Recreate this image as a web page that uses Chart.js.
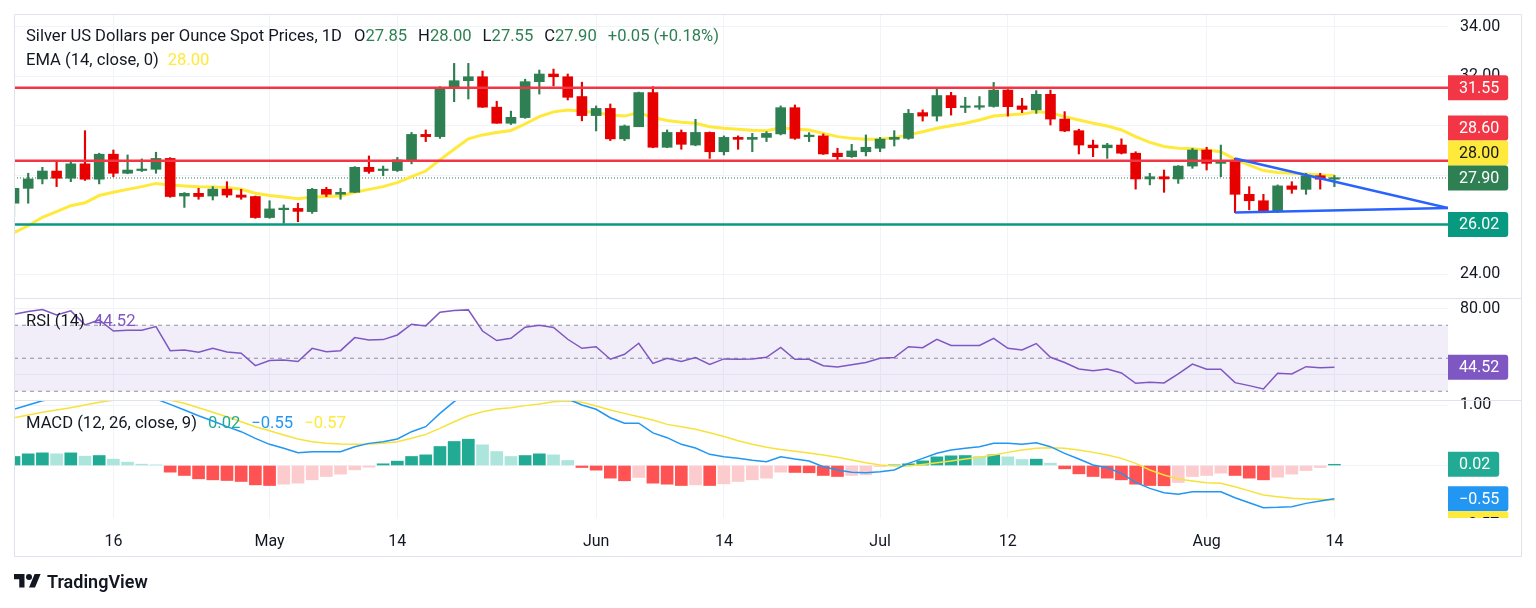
<!DOCTYPE html>
<html>
<head>
<meta charset="utf-8">
<script src="https://cdn.jsdelivr.net/npm/chart.js@4.4.1/dist/chart.umd.min.js"></script>
<style>
  html, body { margin: 0; padding: 0; background: #fff; }
  #wrap { position: relative; width: 1536px; height: 608px; }
  #logo { position: absolute; left: 14px; top: 571px; display: flex; align-items: center; gap: 6px;
          font: 600 18px Roboto, "Noto Sans", sans-serif; color: #131722; }
</style>
</head>
<body>
<div id="wrap">
  <canvas id="chart" width="1536" height="608"></canvas>
  <div id="logo">
    <svg width="27" height="21" viewBox="0 0 36 28"><path fill="#131722" d="M14 22H7V11H0V4h14v18zM28 22h-8l7.5-18h8L28 22z"/><circle fill="#131722" cx="20" cy="8" r="4"/></svg>
    <span>TradingView</span>
  </div>
</div>
<script>
const ctx = document.getElementById('chart');

// trading days shown on the time axis (last 8 are empty space to the right)
const dates = [
  '2024-04-05','2024-04-08','2024-04-09','2024-04-10','2024-04-11','2024-04-12','2024-04-15','2024-04-16','2024-04-17','2024-04-18',
  '2024-04-19','2024-04-22','2024-04-23','2024-04-24','2024-04-25','2024-04-26','2024-04-29','2024-04-30',
  '2024-05-01','2024-05-02','2024-05-03','2024-05-06','2024-05-07','2024-05-08','2024-05-09','2024-05-10','2024-05-13','2024-05-14',
  '2024-05-15','2024-05-16','2024-05-17','2024-05-20','2024-05-21','2024-05-22','2024-05-23','2024-05-24','2024-05-27','2024-05-28',
  '2024-05-29','2024-05-30','2024-05-31',
  '2024-06-03','2024-06-04','2024-06-05','2024-06-06','2024-06-07','2024-06-10','2024-06-11','2024-06-12','2024-06-13','2024-06-14',
  '2024-06-17','2024-06-18','2024-06-19','2024-06-20','2024-06-21','2024-06-24','2024-06-25','2024-06-26','2024-06-27','2024-06-28',
  '2024-07-01','2024-07-02','2024-07-03','2024-07-04','2024-07-05','2024-07-08','2024-07-09','2024-07-10','2024-07-11','2024-07-12',
  '2024-07-15','2024-07-16','2024-07-17','2024-07-18','2024-07-19','2024-07-22','2024-07-23','2024-07-24','2024-07-25','2024-07-26',
  '2024-07-29','2024-07-30','2024-07-31',
  '2024-08-01','2024-08-02','2024-08-05','2024-08-06','2024-08-07','2024-08-08','2024-08-09','2024-08-12','2024-08-13','2024-08-14',
  '2024-08-15','2024-08-16','2024-08-19','2024-08-20','2024-08-21','2024-08-22','2024-08-23','2024-08-26'
];
const xTickText = {
  '2024-04-16': '16', '2024-05-01': 'May', '2024-05-14': '14', '2024-06-03': 'Jun', '2024-06-14': '14',
  '2024-07-01': 'Jul', '2024-07-12': '12', '2024-08-01': 'Aug', '2024-08-14': '14'
};

const open = [
  26.88, 27.48, 27.86, 28.18, 27.89, 28.47, 27.85,
  28.86, 28.09, 28.20, 28.25, 28.69, 27.17, 27.28, 27.17, 27.45, 27.21,
  27.15, 26.30, 26.62, 26.67, 26.54, 27.44, 27.24, 27.32, 28.33, 28.20,
  28.20, 28.60, 29.66, 29.57, 31.53, 31.83, 31.99, 30.76, 30.11, 30.34,
  31.79, 32.10, 31.99, 31.19, 30.42, 30.71, 29.48, 29.97, 31.35, 29.14,
  29.74, 29.23, 29.74, 28.96, 29.54, 29.46, 29.54, 29.68, 30.74, 29.57,
  29.60, 28.90, 28.76, 28.96, 29.10, 29.46, 29.50, 30.54, 30.40, 31.23,
  30.75, 30.76, 30.79, 31.45, 30.81, 30.65, 31.28, 30.28, 29.81, 29.23,
  29.12, 29.23, 28.90, 27.86, 27.95, 27.86, 28.38, 29.03, 28.49, 28.60,
  27.24, 26.98, 26.54, 27.58, 27.44, 27.99, 27.85
];
const high = [
  27.55, 28.09, 28.33, 28.56, 28.56, 29.81, 28.90,
  29.03, 28.83, 28.67, 28.94, 28.72, 27.31, 27.48, 27.55, 27.75, 27.44,
  27.17, 26.98, 26.81, 26.88, 27.48, 27.52, 27.48, 28.36, 28.79, 28.38,
  28.73, 29.74, 29.84, 31.59, 32.53, 32.53, 32.22, 31.00, 30.60, 31.89,
  32.26, 32.30, 32.10, 31.77, 30.81, 30.89, 30.04, 31.37, 31.59, 29.84,
  29.84, 30.27, 29.76, 29.60, 29.60, 29.70, 29.77, 30.81, 30.85, 29.73,
  29.68, 29.10, 29.26, 29.64, 29.54, 29.81, 30.67, 30.65, 31.52, 31.36,
  31.16, 31.19, 31.76, 31.47, 31.12, 31.43, 31.45, 30.58, 29.87, 29.43,
  29.30, 29.48, 28.96, 28.09, 28.22, 28.40, 29.10, 29.14, 29.23, 28.69,
  27.55, 27.24, 27.62, 27.75, 28.09, 28.09, 28.00
];
const low = [
  26.34, 26.88, 27.66, 27.55, 27.75, 27.80, 27.66,
  27.95, 28.07, 28.16, 28.09, 27.12, 26.71, 27.04, 27.01, 27.12, 27.04,
  26.27, 26.27, 26.07, 26.13, 26.47, 27.15, 27.04, 27.31, 28.09, 27.99,
  28.16, 28.47, 29.37, 29.50, 30.98, 31.09, 30.75, 30.11, 30.06, 30.31,
  31.29, 31.62, 31.05, 30.21, 29.80, 29.41, 29.41, 29.97, 29.12, 29.12,
  29.06, 29.20, 28.69, 28.83, 29.06, 28.96, 29.37, 29.64, 29.46, 29.37,
  28.85, 28.63, 28.73, 28.79, 28.96, 29.19, 29.46, 30.20, 30.20, 30.44,
  30.54, 30.67, 30.76, 30.40, 30.54, 30.51, 30.04, 29.77, 28.87, 28.76,
  28.69, 28.87, 27.45, 27.62, 27.32, 27.68, 28.29, 28.22, 27.95, 26.50,
  26.61, 26.54, 26.50, 27.28, 27.24, 27.45, 27.55
];
const close = [
  27.48, 27.86, 28.18, 27.89, 28.47, 27.85, 28.86,
  28.09, 28.22, 28.26, 28.69, 27.15, 27.28, 27.15, 27.45, 27.21, 27.12,
  26.30, 26.65, 26.67, 26.55, 27.44, 27.24, 27.32, 28.33, 28.16, 28.22,
  28.63, 29.66, 29.57, 31.53, 31.83, 31.99, 30.76, 30.11, 30.35, 31.79,
  32.10, 31.99, 31.16, 30.42, 30.71, 29.48, 30.00, 31.35, 29.14, 29.74,
  29.26, 29.74, 28.96, 29.54, 29.46, 29.54, 29.70, 30.74, 29.50, 29.60,
  28.87, 28.76, 28.99, 29.14, 29.47, 29.54, 30.51, 30.40, 31.23, 30.74,
  30.81, 30.81, 31.45, 30.78, 30.67, 31.28, 30.28, 29.80, 29.23, 29.12,
  29.23, 28.90, 27.86, 27.95, 27.86, 28.38, 29.03, 28.49, 28.56, 27.24,
  26.98, 26.58, 27.58, 27.44, 27.99, 27.85, 27.90
];
const ema14 = [
  25.69, 25.97, 26.31, 26.54, 26.78, 26.90, 27.19,
  27.32, 27.44, 27.55, 27.68, 27.62, 27.58, 27.55, 27.54, 27.51, 27.44,
  27.28, 27.19, 27.13, 27.06, 27.13, 27.15, 27.17, 27.32, 27.44, 27.55,
  27.71, 27.95, 28.18, 28.63, 29.06, 29.48, 29.64, 29.74, 29.82, 30.08,
  30.38, 30.57, 30.65, 30.61, 30.54, 30.44, 30.40, 30.54, 30.34, 30.22,
  30.15, 30.11, 29.97, 29.91, 29.87, 29.83, 29.81, 29.93, 29.88, 29.84,
  29.70, 29.57, 29.50, 29.46, 29.46, 29.53, 29.64, 29.77, 29.91, 30.01,
  30.11, 30.24, 30.40, 30.44, 30.48, 30.58, 30.54, 30.38, 30.24, 30.11,
  30.00, 29.84, 29.57, 29.34, 29.17, 29.10, 29.08, 29.03, 28.96, 28.65,
  28.42, 28.20, 28.12, 28.09, 28.06, 28.02, 28.00
];
const rsi14 = [
  76.6, 78.3, 79.5, 76.2, 78.7, 70.2, 73.2,
  66.5, 66.9, 66.9, 69.2, 54.6, 55.0, 53.6, 56.0, 53.8, 53.0,
  45.5, 48.6, 49.0, 48.0, 56.0, 54.0, 54.6, 62.5, 61.1, 61.3,
  64.1, 70.6, 69.6, 77.9, 78.9, 79.3, 66.5, 60.7, 62.1, 68.8,
  70.0, 68.6, 61.5, 56.0, 57.0, 49.4, 52.4, 59.1, 46.9, 50.0,
  48.0, 50.4, 46.3, 49.6, 49.4, 49.6, 50.6, 56.6, 49.4, 49.4,
  45.5, 44.7, 46.1, 47.4, 50.0, 50.4, 57.0, 56.4, 61.5, 57.7,
  57.7, 57.7, 62.1, 56.0, 55.0, 58.9, 50.6, 47.4, 43.5, 42.5,
  43.5, 41.1, 34.8, 35.4, 35.0, 40.5, 46.5, 43.3, 43.3, 35.2,
  33.4, 31.4, 40.9, 40.5, 44.9, 44.3, 44.52
];
const macdLine = [
  0.93, 1.00, 1.07, 1.11, 1.14, 1.15, 1.17,
  1.16, 1.14, 1.12, 1.10, 1.01, 0.917, 0.823, 0.735, 0.642, 0.559,
  0.449, 0.350, 0.284, 0.212, 0.228, 0.228, 0.228, 0.311, 0.366, 0.394,
  0.438, 0.559, 0.642, 0.862, 1.055, 1.20, 1.25, 1.20, 1.18, 1.20,
  1.25, 1.22, 1.10, 1.00, 0.93, 0.79, 0.70, 0.70, 0.54, 0.46,
  0.35, 0.29, 0.185, 0.146, 0.118, 0.085, 0.063, 0.146, 0.107, 0.074,
  -0.02, -0.075, -0.113, -0.119, -0.102, -0.075, 0.036, 0.118, 0.201, 0.256,
  0.284, 0.311, 0.366, 0.366, 0.350, 0.377, 0.311, 0.201, 0.107, 0.008,
  -0.036, -0.130, -0.279, -0.378, -0.449, -0.477, -0.433, -0.433, -0.433, -0.532,
  -0.615, -0.697, -0.692, -0.681, -0.626, -0.587, -0.55
];
const signalLine = [
  0.79, 0.835, 0.88, 0.917, 0.956, 1.0, 1.044,
  1.08, 1.11, 1.12, 1.11, 1.08, 1.03, 0.956, 0.88, 0.807, 0.724,
  0.642, 0.575, 0.504, 0.438, 0.394, 0.366, 0.355, 0.350, 0.355, 0.366,
  0.394, 0.449, 0.515, 0.614, 0.724, 0.823, 0.89, 0.934, 0.956, 0.99,
  1.016, 1.055, 1.066, 1.044, 0.983, 0.917, 0.862, 0.807, 0.752, 0.68,
  0.64, 0.60, 0.54, 0.48, 0.41, 0.35, 0.30, 0.265, 0.235, 0.205,
  0.173, 0.135, 0.09, 0.046, 0.008, -0.01, -0.01, 0.017, 0.046, 0.074,
  0.107, 0.135, 0.173, 0.217, 0.256, 0.284, 0.295, 0.284, 0.256, 0.217,
  0.173, 0.118, 0.036, -0.075, -0.157, -0.223, -0.256, -0.284, -0.295, -0.35,
  -0.42, -0.488, -0.515, -0.543, -0.554, -0.56, -0.57
];
const macdHist = [
  0.149, 0.193, 0.209, 0.193, 0.209, 0.154, 0.165,
  0.105, 0.055, 0.022, 0.011, -0.110, -0.165, -0.220, -0.237, -0.248, -0.264,
  -0.320, -0.331, -0.309, -0.292, -0.237, -0.182, -0.143, -0.072, -0.028, 0.028,
  0.072, 0.149, 0.176, 0.314, 0.397, 0.435, 0.342, 0.231, 0.149, 0.165,
  0.193, 0.176, 0.083, -0.033, -0.077, -0.209, -0.253, -0.198, -0.292, -0.309,
  -0.331, -0.320, -0.331, -0.303, -0.264, -0.237, -0.209, -0.110, -0.115, -0.120,
  -0.165, -0.182, -0.165, -0.154, -0.017, 0.010, 0.028, 0.077, 0.143, 0.160,
  0.165, 0.149, 0.176, 0.143, 0.099, 0.105, 0.039, -0.055, -0.138, -0.182,
  -0.209, -0.237, -0.309, -0.331, -0.335, -0.281, -0.182, -0.165, -0.127, -0.165,
  -0.209, -0.237, -0.193, -0.143, -0.083, -0.033, 0.02
];

// drawn levels and the triangle
const hLevels = [31.55, 28.60, 26.02];
const trendDates = ['2024-08-05', '2024-08-26'];
const upperTrend = [28.69, 26.69];
const lowerTrend = [26.50, 26.69];
const rsiLevels = [70, 50, 30];

const priceTicks = [24, 26, 28, 30, 32, 34];
const rsiTicks = [40, 80];
const macdTicks = [0, 1];

const INK = '#131722';
const GREEN = '#2e7f52', RED = '#e60000';
const YELLOW = '#ffe93b', BLUE_T = '#2962ff';
const FONT = 'Roboto, "Noto Sans", sans-serif';
Chart.defaults.font.family = FONT;

const last = close.length - 1;
const ends = [dates[0], dates[dates.length - 1]];
const flat = v => ends.map(x => ({ x, y: v }));
const seg = (xs, ys) => xs.map((x, i) => ({ x, y: ys[i] }));

const candleColors = close.map((c, i) => c >= open[i] ? GREEN : RED);
const histColors = macdHist.map((h, i) => {
  const prev = i ? macdHist[i - 1] : 0;
  if (h >= 0) return h >= prev ? '#22ab94' : '#ace5dc';
  return h < prev ? '#ff5252' : '#fccbcd';
});

const fmt = v => (v < 0 ? '\u2212' : '') + Math.abs(v).toFixed(2);

const line = (data, color, width, extra) => Object.assign({
  type: 'line', data, borderColor: color, borderWidth: width,
  pointRadius: 0, tension: 0, fill: false
}, extra);

// keep every series inside its own pane
const paneClip = {
  id: 'paneClip',
  beforeDatasetDraw(chart, args) {
    const ys = args.meta.yScale, a = chart.chartArea, c = chart.ctx;
    c.save();
    c.beginPath();
    c.rect(a.left, ys.top, a.right - a.left, ys.bottom - ys.top);
    c.clip();
  },
  afterDatasetDraw(chart) { chart.ctx.restore(); }
};

function drawRuns(c, x, y, runs) {
  for (const [text, color, gap] of runs) {
    c.fillStyle = color;
    c.fillText(text, x, y);
    x += c.measureText(text).width + (gap || 0);
  }
}

function drawTags(chart, scale, tags, dir) {
  const c = chart.ctx, h = 25, axX = chart.chartArea.right;
  c.save();
  c.beginPath();
  c.rect(axX, scale.top, chart.width - axX, scale.bottom - scale.top);
  c.clip();
  c.font = '16px ' + FONT;
  const items = tags.map(t => ({ ...t, y: scale.getPixelForValue(t.v) }));
  items.sort((a, b) => a.y - b.y);
  if (dir === 'up') {
    for (let i = items.length - 2; i >= 0; i--) {
      const lim = items[i + 1].y - h;
      if (items[i].y > lim) items[i].y = lim;
    }
  } else {
    for (let i = 1; i < items.length; i++) {
      const lim = items[i - 1].y + h;
      if (items[i].y < lim) items[i].y = lim;
    }
  }
  for (const t of items) {
    const txt = fmt(t.v), w = c.measureText(txt).width + 20;
    c.fillStyle = t.bg;
    c.beginPath();
    c.roundRect(axX, t.y - h / 2, w, h, [0, 3, 3, 0]);
    c.fill();
    c.fillStyle = t.fg || '#ffffff';
    c.textBaseline = 'middle';
    c.textAlign = 'left';
    c.fillText(txt, axX + 11, t.y + 1);
  }
  c.restore();
}

const tvDecor = {
  id: 'tvDecor',
  beforeDraw(chart) {
    const c = chart.ctx;
    c.save();
    c.fillStyle = '#ffffff';
    c.fillRect(0, 0, chart.width, chart.height);
    c.restore();
  },
  afterDraw(chart) {
    const c = chart.ctx, a = chart.chartArea, s = chart.scales;
    const right = chart.width - 14;
    c.save();
    c.strokeStyle = '#e0e3eb';
    c.lineWidth = 1;
    c.beginPath();
    c.moveTo(a.left, s.y.bottom + 0.5); c.lineTo(right, s.y.bottom + 0.5);
    c.moveTo(a.left, s.yRsi.bottom + 0.5); c.lineTo(right, s.yRsi.bottom + 0.5);
    c.rect(a.left + 0.5, a.top + 0.5, right - a.left - 1, s.x.bottom - a.top);
    c.stroke();

    c.font = '16.6px ' + FONT;
    c.textBaseline = 'middle';
    c.textAlign = 'left';
    const chg = close[last] - close[last - 1];
    const pct = chg / close[last - 1] * 100;
    const sign = v => (v >= 0 ? '+' : '\u2212') + Math.abs(v).toFixed(2);
    const valCol = candleColors[last];
    drawRuns(c, a.left + 12, a.top + 23, [
      ['Silver US Dollars per Ounce Spot Prices, 1D', INK, 12],
      ['O', INK], [open[last].toFixed(2), valCol, 11],
      ['H', INK], [high[last].toFixed(2), valCol, 11],
      ['L', INK], [low[last].toFixed(2), valCol, 11],
      ['C', INK], [close[last].toFixed(2), valCol, 11],
      [sign(chg) + ' (' + sign(pct) + '%)', valCol]
    ]);
    drawRuns(c, a.left + 12, a.top + 47, [
      ['EMA (14, close, 0)', INK, 9], [ema14[last].toFixed(2), YELLOW]
    ]);
    drawRuns(c, a.left + 12, s.yRsi.top + 24, [
      ['RSI (14)', INK, 9], [rsi14[last].toFixed(2), '#7e57c2']
    ]);
    drawRuns(c, a.left + 12, s.yMacd.top + 24, [
      ['MACD (12, 26, close, 9)', INK, 11],
      [fmt(macdHist[last]), '#22ab94', 11],
      [fmt(macdLine[last]), '#2196f3', 11],
      [fmt(signalLine[last]), YELLOW]
    ]);
    c.restore();

    drawTags(chart, s.y, [
      { v: hLevels[0], bg: '#f23645' },
      { v: hLevels[1], bg: '#f23645' },
      { v: ema14[last], bg: YELLOW, fg: INK },
      { v: close[last], bg: GREEN },
      { v: hLevels[2], bg: '#089981' }
    ], 'up');
    drawTags(chart, s.yRsi, [{ v: rsi14[last], bg: '#7e57c2' }], 'up');
    drawTags(chart, s.yMacd, [
      { v: macdHist[last], bg: '#22ab94' },
      { v: macdLine[last], bg: '#2196f3' },
      { v: signalLine[last], bg: YELLOW, fg: INK }
    ], 'down');
  }
};

const yAxis = (ticks, min, max, weight) => ({
  type: 'linear', position: 'right', stack: 'panes', stackWeight: weight,
  min, max,
  afterBuildTicks(sc) { sc.ticks = ticks.map(v => ({ value: v })); },
  afterFit(sc) { sc.width = 74; sc.paddingTop = 0; sc.paddingBottom = 0; },
  grid: { color: '#f0f3fa', drawTicks: false },
  border: { display: false },
  ticks: { color: INK, padding: 12, font: { size: 16 }, callback: v => v.toFixed(2) }
});

new Chart(ctx, {
  type: 'bar',
  data: {
    labels: dates,
    datasets: [
      // price pane
      line(ema14, YELLOW, 3, { yAxisID: 'y', order: 8 }),
      line(flat(close[last]), GREEN, 1, { yAxisID: 'y', borderDash: [1, 2], order: 9 }),
      {
        data: low.map((l, i) => [l, high[i]]), yAxisID: 'y',
        backgroundColor: candleColors, barThickness: 1.5, grouped: false, order: 7
      },
      {
        data: open.map((o, i) => [o, close[i]]), yAxisID: 'y',
        backgroundColor: candleColors, barThickness: 10, minBarLength: 1.5, grouped: false, order: 6
      },
      line(flat(hLevels[0]), '#f23645', 2.5, { yAxisID: 'y', order: 3 }),
      line(flat(hLevels[1]), '#f23645', 2.5, { yAxisID: 'y', order: 3 }),
      line(flat(hLevels[2]), '#089981', 2.5, { yAxisID: 'y', order: 3 }),
      line(seg(trendDates, upperTrend), BLUE_T, 2.5, { yAxisID: 'y', order: 2 }),
      line(seg(trendDates, lowerTrend), BLUE_T, 2.5, { yAxisID: 'y', order: 2 }),
      // RSI pane
      line(flat(rsiLevels[0]), '#8f929c', 1, { yAxisID: 'yRsi', borderDash: [4, 4], order: 10 }),
      line(flat(rsiLevels[2]), '#8f929c', 1, {
        yAxisID: 'yRsi', borderDash: [4, 4], order: 10,
        fill: '-1', backgroundColor: 'rgba(126,87,194,0.1)'
      }),
      line(flat(rsiLevels[1]), '#8f929c', 1, { yAxisID: 'yRsi', borderDash: [4, 4], order: 10 }),
      line(rsi14, '#7e57c2', 1.5, { yAxisID: 'yRsi', order: 5 }),
      // MACD pane
      {
        data: macdHist, yAxisID: 'yMacd', backgroundColor: histColors,
        barThickness: 12, grouped: false, order: 7
      },
      line(macdLine, '#2196f3', 1.5, { yAxisID: 'yMacd', order: 5 }),
      line(signalLine, '#f7e23a', 1.5, { yAxisID: 'yMacd', order: 5 })
    ]
  },
  options: {
    responsive: false,
    devicePixelRatio: 1,
    animation: false,
    layout: { padding: { left: 14, top: 14, right: 14, bottom: 52 } },
    plugins: { legend: { display: false }, tooltip: { enabled: false } },
    scales: {
      x: {
        type: 'category', offset: false,
        afterFit(sc) { sc.height = 38; sc.paddingLeft = 0; sc.paddingRight = 0; },
        grid: { color: '#f0f3fa', offset: false, drawTicks: false },
        border: { display: false },
        ticks: {
          autoSkip: false, maxRotation: 0, color: INK, padding: 14, font: { size: 16 },
          callback: (v, i) => xTickText[dates[i]] ?? null
        }
      },
      y: yAxis(priceTicks, 23.05, 34.525, 284),
      yRsi: yAxis(rsiTicks, 24.7, 86.5, 102),
      yMacd: yAxis(macdTicks, -0.868, 1.083, 118)
    }
  },
  plugins: [paneClip, tvDecor]
});
</script>
</body>
</html>
